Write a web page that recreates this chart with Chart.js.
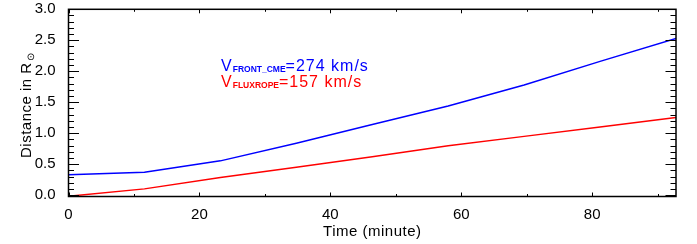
<!DOCTYPE html>
<html>
<head>
<title>CME distance vs time</title>
<script src="https://cdn.jsdelivr.net/npm/chart.js@4.4.0/dist/chart.umd.min.js"></script>
<style>
  body { margin: 0; background: #fff; }
</style>
</head>
<body>
<canvas id="cmeChart" width="697" height="244"></canvas>
<script>
// time in minutes
const timeMin = [0, 11.6, 23.2, 34.8, 46.4, 58.0, 69.6, 81.2, 92.8];
// distance in solar radii
const frontCme = [0.33, 0.37, 0.555, 0.84, 1.14, 1.44, 1.78, 2.16, 2.53];
const fluxRope = [-0.016, 0.103, 0.285, 0.45, 0.62, 0.80, 0.95, 1.10, 1.255];
const xTicks = [0, 20, 40, 60, 80];
const yTicks = [0, 0.5, 1.0, 1.5, 2.0, 2.5, 3.0];
const vFront = 274, vFlux = 157;

const FONT = '"Liberation Sans", Arial, sans-serif';

const idlFrame = {
  id: 'idlFrame',
  afterDatasetsDraw(chart) {
    const ctx = chart.ctx, a = chart.chartArea;
    const xs = chart.scales.x, ys = chart.scales.y;
    ctx.save();
    ctx.strokeStyle = '#000';
    ctx.lineWidth = 1.5;
    ctx.strokeRect(a.left, a.top, a.right - a.left, a.bottom - a.top);
    ctx.lineWidth = 1;
    ctx.beginPath();
    // x ticks, major every 20, minor every 10
    for (let v = 0; v <= xs.max; v += 10) {
      const px = Math.round(xs.getPixelForValue(v)) + 0.5;
      const len = v % 20 === 0 ? 4 : 2.5;
      ctx.moveTo(px, a.bottom); ctx.lineTo(px, a.bottom - len);
      ctx.moveTo(px, a.top); ctx.lineTo(px, a.top + len);
    }
    // y ticks, major every 0.5, minor every 0.1
    for (let i = 0; i <= 30; i++) {
      const py = Math.round(ys.getPixelForValue(i / 10)) + 0.5;
      const len = i % 5 === 0 ? 10.5 : 5.5;
      ctx.moveTo(a.left, py); ctx.lineTo(a.left + len, py);
      ctx.moveTo(a.right, py); ctx.lineTo(a.right - len, py);
    }
    ctx.stroke();

    // axis titles
    ctx.fillStyle = '#000';
    ctx.font = '15px ' + FONT;
    ctx.letterSpacing = '0.5px';
    ctx.textAlign = 'center';
    ctx.textBaseline = 'alphabetic';
    ctx.fillText('Time (minute)', (a.left + a.right) / 2, 236);

    ctx.save();
    ctx.translate(31, 158);
    ctx.rotate(-Math.PI / 2);
    ctx.textAlign = 'left';
    const main = 'Distance in R';
    ctx.fillText(main, 0, 0);
    const w = ctx.measureText(main).width;
    ctx.font = '10px ' + FONT;
    ctx.letterSpacing = '0px';
    ctx.fillText('\u2299', w + 1, 3);
    ctx.restore();

    // velocity labels
    const tx = xs.getPixelForValue(23.3);
    const label = (sub, val, y, color) => {
      ctx.fillStyle = color;
      ctx.textAlign = 'left';
      ctx.font = '16px ' + FONT;
      ctx.letterSpacing = '1px';
      ctx.fillText('V', tx, y);
      let x = tx + ctx.measureText('V').width;
      ctx.font = 'bold 8.5px ' + FONT;
      ctx.letterSpacing = '0px';
      ctx.fillText(sub, x, y + 1);
      x += ctx.measureText(sub).width;
      ctx.font = '16px ' + FONT;
      ctx.letterSpacing = '1px';
      ctx.fillText('=' + val + ' km/s', x, y);
    };
    label('FRONT_CME', vFront, 71, '#0000ff');
    label('FLUXROPE', vFlux, 87, '#ff0000');
    ctx.restore();
  }
};

new Chart(document.getElementById('cmeChart'), {
  type: 'line',
  data: {
    datasets: [
      {
        label: 'front',
        data: timeMin.map((t, i) => ({ x: t, y: frontCme[i] })),
        borderColor: '#0000ff',
        borderWidth: 1.5,
        pointRadius: 0,
        tension: 0,
        fill: false
      },
      {
        label: 'fluxrope',
        data: timeMin.map((t, i) => ({ x: t, y: fluxRope[i] })),
        borderColor: '#ff0000',
        borderWidth: 1.5,
        pointRadius: 0,
        tension: 0,
        fill: false
      }
    ]
  },
  options: {
    responsive: false,
    animation: false,
    devicePixelRatio: 1,
    layout: { padding: { left: 0, top: 0, right: 21, bottom: 0 } },
    plugins: {
      legend: { display: false },
      tooltip: { enabled: false }
    },
    scales: {
      x: {
        type: 'linear',
        min: 0,
        max: 92.8,
        grid: { display: false },
        border: { display: false },
        afterBuildTicks: s => { s.ticks = xTicks.map(v => ({ value: v })); },
        afterFit: s => { s.height = 47.5; },
        ticks: {
          color: '#000',
          padding: 1,
          maxRotation: 0,
          font: { family: FONT, size: 15 }
        }
      },
      y: {
        min: -0.02,
        max: 3.0,
        grid: { display: false },
        border: { display: false },
        afterBuildTicks: s => { s.ticks = yTicks.map(v => ({ value: v })); },
        afterFit: s => { s.width = 68.5; s.paddingTop = 9.3; s.paddingBottom = 0; },
        ticks: {
          color: '#000',
          padding: 5,
          font: { family: FONT, size: 15 },
          callback: v => Number(v).toFixed(1)
        }
      }
    }
  },
  plugins: [idlFrame]
});
</script>
</body>
</html>
